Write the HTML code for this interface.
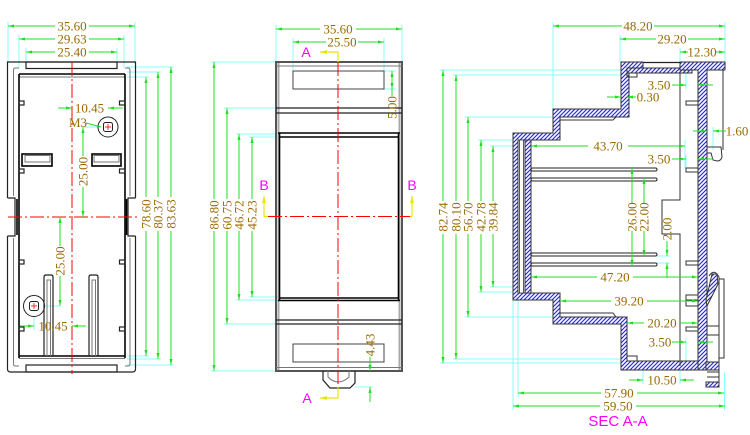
<!DOCTYPE html>
<html><head><meta charset="utf-8"><style>
html,body{margin:0;padding:0;background:#fff}
svg{display:block}
.t{font-family:"Liberation Serif",serif;font-size:13px;fill:#9a6a00;text-anchor:middle}
.m{font-family:"Liberation Sans",sans-serif;font-size:14px;fill:#ff00ff;text-anchor:middle}
.d line{stroke:#1de01d;stroke-width:1;marker-end:url(#ar)}
.dn line{stroke:#1de01d;stroke-width:1}
.e line{stroke:#8ff;stroke-width:1}
.o{stroke:#222;fill:none;stroke-width:1.2}
.k{stroke:#000;fill:none;stroke-width:1.6}
.g{stroke:#777;fill:none;stroke-width:1}
.c{stroke:#f00;stroke-width:1;stroke-dasharray:14 3 2 3;fill:none}
.h{fill:url(#hp);stroke:#333;stroke-width:1}
.y{stroke:#e8e800;stroke-width:1.2;fill:none}
</style></head><body>
<svg width="750" height="435" viewBox="0 0 750 435" xmlns="http://www.w3.org/2000/svg">
<defs>
<marker id="ar" viewBox="0 0 6 3" refX="6" refY="1.5" markerWidth="6" markerHeight="3" markerUnits="userSpaceOnUse" orient="auto"><path d="M0,0L6,1.5L0,3z" fill="#1de01d"/></marker>
<marker id="ay" viewBox="0 0 7 4" refX="7" refY="2" markerWidth="7" markerHeight="4" markerUnits="userSpaceOnUse" orient="auto"><path d="M0,0L7,2L0,4z" fill="#e8e800"/></marker>
<pattern id="hp" patternUnits="userSpaceOnUse" width="4" height="4"><rect width="4" height="4" fill="#fff"/><path d="M-1,1L1,-1M0,4L4,0M3,5L5,3" stroke="#2f2fd6" stroke-width="1.15"/></pattern>
</defs>
<rect width="750" height="435" fill="#fff"/>

<!-- ================= LEFT VIEW ================= -->
<g class="e">
<line x1="8" y1="22" x2="8" y2="62"/><line x1="135" y1="22" x2="135" y2="62"/>
<line x1="19" y1="35" x2="19" y2="68"/><line x1="124" y1="35" x2="124" y2="68"/>
<line x1="26" y1="48" x2="26" y2="62"/><line x1="117" y1="48" x2="117" y2="62"/>
<line x1="127" y1="67" x2="174" y2="67"/><line x1="127" y1="72" x2="161" y2="72"/><line x1="127" y1="77" x2="149" y2="77"/>
<line x1="127" y1="356" x2="149" y2="356"/><line x1="127" y1="359" x2="161" y2="359"/><line x1="127" y1="365" x2="174" y2="365"/>
<line x1="83" y1="127" x2="100" y2="127"/>
<line x1="44" y1="306" x2="60" y2="306"/><line x1="34" y1="316" x2="34" y2="330"/>
</g>
<!-- body -->
<path class="o" d="M7.5,198V62H135.5V198M7.5,198H15V236H7.5M135.5,198H128V236H135.5M7.5,236V369Q7.5,372 10.5,372H132.5Q135.5,372 135.5,369V236"/>
<g class="g">
<path d="M13.5,196V70Q13.5,68 15.5,68H19M13.5,238V364Q13.5,366 15.5,366H19"/>
<path d="M130,196V70Q130,68 128,68H125M130,238V364Q130,366 128,366H125"/>
<line x1="19" y1="77" x2="125" y2="77"/>
<line x1="19" y1="358.5" x2="125" y2="358.5"/>
</g>
<g class="k">
<line x1="19" y1="74" x2="19" y2="358"/><line x1="125" y1="74" x2="125" y2="358"/>
<line x1="19" y1="74" x2="125" y2="74"/><line x1="19" y1="356" x2="125" y2="356"/>
<line x1="17" y1="199" x2="17" y2="235"/><line x1="126.5" y1="199" x2="126.5" y2="235"/>
</g>
<rect class="o" x="26" y="62" width="91" height="6.5"/>
<rect class="o" x="26" y="365" width="91" height="7"/>
<g class="o">
<rect x="19" y="101" width="5" height="4"/><rect x="19" y="169" width="5" height="4"/>
<rect x="19" y="260" width="5" height="4"/><rect x="19" y="327" width="5" height="4"/>
<rect x="119.5" y="101" width="5.5" height="4"/><rect x="119.5" y="169" width="5.5" height="4"/>
<rect x="119.5" y="260" width="5.5" height="4"/><rect x="119.5" y="327" width="5.5" height="4"/>
</g>
<rect x="22" y="154" width="30" height="12" stroke="#000" stroke-width="1.6" fill="none"/>
<rect x="25" y="155.5" width="25" height="6.5" class="g"/>
<rect x="92" y="154" width="29" height="12" stroke="#000" stroke-width="1.6" fill="none"/>
<rect x="94" y="155.5" width="25" height="6.5" class="g"/>
<!-- posts -->
<path class="o" d="M44,356V277Q44,275 46,275H51Q53,275 53,277V356"/>
<path class="g" d="M47,356V280H50.5V356"/>
<path class="o" d="M89,356V277Q89,275 91,275H96Q98,275 98,277V356"/>
<path class="g" d="M92,356V280H95.5V356"/>
<!-- holes -->
<circle cx="108" cy="127" r="10" fill="none" stroke="#222" stroke-width="1"/>
<rect x="103.5" y="122.5" width="9" height="9" rx="2" fill="none" stroke="#222" stroke-width="1"/>
<circle cx="34" cy="306" r="10.5" fill="none" stroke="#222" stroke-width="1"/>
<rect x="29.5" y="301.5" width="9" height="9" rx="2" fill="none" stroke="#222" stroke-width="1"/>
<g stroke="#f00" stroke-width="0.8"><line x1="105" y1="127" x2="111" y2="127"/><line x1="108" y1="124" x2="108" y2="130"/>
<line x1="31" y1="306" x2="37" y2="306"/><line x1="34" y1="303" x2="34" y2="309"/></g>
<!-- centre lines -->
<line class="c" x1="72" y1="62" x2="72" y2="374"/>
<line class="c" x1="8" y1="217" x2="138" y2="217"/>
<!-- dims -->
<g class="d">
<line x1="55" y1="26" x2="8" y2="26"/><line x1="89" y1="26" x2="135" y2="26"/>
<line x1="55" y1="39" x2="19" y2="39"/><line x1="89" y1="39" x2="124" y2="39"/>
<line x1="55" y1="52" x2="26" y2="52"/><line x1="89" y1="52" x2="117" y2="52"/>
<line x1="58" y1="108" x2="72" y2="108"/><line x1="123" y1="108" x2="108" y2="108"/>
<line x1="83" y1="156" x2="83" y2="127"/><line x1="83" y1="187" x2="83" y2="217"/>
<line x1="60" y1="246" x2="60" y2="217"/><line x1="60" y1="276" x2="60" y2="306"/>
<line x1="20" y1="326" x2="34" y2="326"/><line x1="86" y1="326" x2="72" y2="326"/>
<line x1="146" y1="197" x2="146" y2="77"/><line x1="146" y1="231" x2="146" y2="356"/>
<line x1="158" y1="197" x2="158" y2="72"/><line x1="158" y1="231" x2="158" y2="359"/>
<line x1="171" y1="197" x2="171" y2="67"/><line x1="171" y1="231" x2="171" y2="365"/>
</g>
<g class="dn"><line x1="86" y1="123" x2="101" y2="127"/></g>
<text class="t" x="72" y="30.5">35.60</text>
<text class="t" x="72" y="43.5">29.63</text>
<text class="t" x="72" y="56.5">25.40</text>
<text class="t" x="89.5" y="112.5">10.45</text>
<text class="t" x="78" y="127">M3</text>
<text class="t" transform="translate(83,171.5) rotate(-90)" y="4.5">25.00</text>
<text class="t" transform="translate(60,261) rotate(-90)" y="4.5">25.00</text>
<text class="t" x="53" y="330.5">10.45</text>
<text class="t" transform="translate(146,214) rotate(-90)" y="4.5">78.60</text>
<text class="t" transform="translate(158,214) rotate(-90)" y="4.5">80.37</text>
<text class="t" transform="translate(171,214) rotate(-90)" y="4.5">83.63</text>

<!-- ================= MIDDLE VIEW ================= -->
<g class="e">
<line x1="276" y1="25" x2="276" y2="62"/><line x1="402" y1="25" x2="402" y2="62"/>
<line x1="293" y1="38" x2="293" y2="71"/><line x1="384" y1="38" x2="384" y2="71"/>
<line x1="384" y1="71" x2="396" y2="71"/><line x1="384" y1="89" x2="396" y2="89"/>
<line x1="355" y1="387" x2="373" y2="387"/>
<line x1="211" y1="62" x2="276" y2="62"/><line x1="224" y1="108" x2="276" y2="108"/>
<line x1="236" y1="134" x2="279" y2="134"/><line x1="249" y1="137" x2="279" y2="137"/>
<line x1="249" y1="297" x2="279" y2="297"/><line x1="236" y1="300" x2="279" y2="300"/>
<line x1="224" y1="324" x2="276" y2="324"/><line x1="211" y1="371" x2="276" y2="371"/>
</g>
<rect x="276" y="62" width="126" height="309" fill="none" stroke="#555" stroke-width="2"/>
<g stroke="#aaa" stroke-width="2"><line x1="278.5" y1="63" x2="278.5" y2="370"/><line x1="399.5" y1="63" x2="399.5" y2="370"/></g>
<g class="g"><line x1="276" y1="66" x2="402" y2="66"/><line x1="276" y1="367.5" x2="402" y2="367.5"/></g>
<rect x="293" y="71" width="91" height="18" fill="none" stroke="#444" stroke-width="1"/>
<rect x="293" y="344" width="91" height="18" fill="none" stroke="#444" stroke-width="1"/>
<g class="o">
<line x1="276" y1="108" x2="402" y2="108"/><line x1="276" y1="113" x2="402" y2="113"/>
<line x1="276" y1="320" x2="402" y2="320"/><line x1="276" y1="324" x2="402" y2="324"/>
</g>
<g class="k">
<line x1="278" y1="133" x2="400" y2="133"/><line x1="279" y1="137" x2="399" y2="137"/>
<line x1="279" y1="298" x2="399" y2="298"/><line x1="278" y1="300.5" x2="400" y2="300.5"/>
<line x1="279.5" y1="133" x2="279.5" y2="300"/><line x1="398.5" y1="133" x2="398.5" y2="300"/>
</g>
<path class="o" d="M323,371V380L330,388H350L355,383V371"/>
<path class="g" d="M328,371V377Q338,387 349,377V371"/>
<!-- centre lines & section marks -->
<line class="y" x1="264" y1="216.5" x2="278" y2="216.5"/>
<line class="y" x1="400" y1="216.5" x2="412" y2="216.5"/>
<line class="c" x1="268" y1="216.5" x2="410" y2="216.5"/>
<line class="c" x1="338" y1="62" x2="338" y2="387"/>
<line class="y" x1="264" y1="216.5" x2="264" y2="196" marker-end="url(#ay)"/>
<line class="y" x1="412" y1="216.5" x2="412" y2="196" marker-end="url(#ay)"/>
<path class="y" d="M338,62V52H320" marker-end="url(#ay)"/>
<path class="y" d="M338,387V398H320" marker-end="url(#ay)"/>
<text class="m" x="306" y="57">A</text>
<text class="m" x="307" y="403">A</text>
<text class="m" x="264" y="190">B</text>
<text class="m" x="412" y="190">B</text>
<g class="d">
<line x1="320" y1="29" x2="276" y2="29"/><line x1="356" y1="29" x2="402" y2="29"/>
<line x1="326" y1="42" x2="293" y2="42"/><line x1="358" y1="42" x2="384" y2="42"/>
<line x1="392" y1="80" x2="392" y2="71"/><line x1="392" y1="80" x2="392" y2="89"/>
<line x1="370" y1="357" x2="370" y2="371"/><line x1="370" y1="402" x2="370" y2="387"/>
<line x1="214" y1="199" x2="214" y2="62"/><line x1="214" y1="231" x2="214" y2="371"/>
<line x1="227" y1="199" x2="227" y2="108"/><line x1="227" y1="231" x2="227" y2="324"/>
<line x1="239" y1="199" x2="239" y2="134"/><line x1="239" y1="231" x2="239" y2="300"/>
<line x1="252" y1="199" x2="252" y2="137"/><line x1="252" y1="231" x2="252" y2="297"/>
</g>
<g class="dn"><line x1="392" y1="89" x2="392" y2="96"/></g>
<text class="t" x="338" y="33.5">35.60</text>
<text class="t" x="342" y="46.5">25.50</text>
<text class="t" transform="translate(392,107.5) rotate(-90)" y="4.5">5.00</text>
<text class="t" transform="translate(370,345) rotate(-90)" y="4.5">4.43</text>
<text class="t" transform="translate(214,215) rotate(-90)" y="4.5">86.80</text>
<text class="t" transform="translate(227,215) rotate(-90)" y="4.5">60.75</text>
<text class="t" transform="translate(239,215) rotate(-90)" y="4.5">46.72</text>
<text class="t" transform="translate(252,215) rotate(-90)" y="4.5">45.23</text>

<!-- ================= SECTION A-A ================= -->
<g class="e">
<line x1="553" y1="22" x2="553" y2="109"/><line x1="620" y1="35" x2="620" y2="62"/>
<line x1="725" y1="22" x2="725" y2="62"/><line x1="680" y1="48" x2="680" y2="62"/>
<line x1="686" y1="73" x2="686" y2="89"/><line x1="713" y1="127" x2="713" y2="150"/>
<line x1="685" y1="140" x2="685" y2="168"/><line x1="686" y1="155" x2="686" y2="168"/>
<line x1="657" y1="256" x2="670" y2="256"/><line x1="657" y1="263" x2="670" y2="263"/>
<line x1="686" y1="338" x2="686" y2="361"/>
<line x1="643" y1="368" x2="643" y2="384"/><line x1="680" y1="366" x2="680" y2="384"/>
<line x1="518" y1="300" x2="518" y2="397"/><line x1="513" y1="300" x2="513" y2="410"/>
<line x1="724.5" y1="373" x2="724.5" y2="410"/>
<line x1="440" y1="70" x2="621" y2="70"/><line x1="453" y1="75" x2="621" y2="75"/>
<line x1="465" y1="117" x2="553" y2="117"/><line x1="478" y1="140" x2="513" y2="140"/>
<line x1="490" y1="146" x2="519" y2="146"/><line x1="490" y1="287" x2="519" y2="287"/>
<line x1="478" y1="292" x2="513" y2="292"/><line x1="465" y1="317" x2="553" y2="317"/>
<line x1="453" y1="359" x2="621" y2="359"/><line x1="440" y1="363" x2="621" y2="363"/>
</g>
<!-- hatched shell -->
<path class="h" d="M643,62H621V109H553V133H513V300H553V324H621V370H698V361H627V317H560V293H518V140H560V117H629V69H643Z"/>
<rect class="h" x="525" y="140" width="6" height="153"/>
<rect x="519.5" y="140" width="4" height="153" fill="#fff" stroke="#333" stroke-width="0.8"/>
<rect class="h" x="627" y="68" width="65" height="5"/>
<path class="h" d="M680,62H725V70H707V370H698V70H680Z"/>
<line class="o" x1="643" y1="62.5" x2="680" y2="62.5"/>
<!-- inner details -->
<g stroke="#333" stroke-width="1" fill="none">
<path d="M560,120H613L616,117"/><path d="M560,313H613L616,317"/>
<rect x="627" y="73" width="10" height="4"/><rect x="627" y="356" width="10" height="5"/>
<path d="M680,73V200H662V234H680V366"/>
<path d="M707,70H723V150"/>
<path d="M707,147H721L722,157Q721,161 717,161L713,160L711,153H707"/>
<rect x="686" y="101" width="12" height="4"/><rect x="686" y="168" width="12" height="4"/>
<rect x="686" y="261" width="12" height="4"/><rect x="686" y="295" width="12" height="11"/>
<line x1="686" y1="300" x2="698" y2="300"/><rect x="686" y="327" width="12" height="4"/>
<path d="M709,276Q714,268 719,277V387H706"/>
<path d="M719,279H724V358H719"/>
<line x1="707" y1="326" x2="719" y2="326"/><line x1="707" y1="335" x2="719" y2="335"/>
<line x1="707" y1="372" x2="719" y2="372"/><line x1="707" y1="377" x2="719" y2="377"/>
</g>
<path class="h" d="M706,300L712,274L717,274L718,284L707,306Z"/>
<rect class="h" x="706" y="362" width="13" height="8"/>
<rect class="h" x="706" y="382" width="13" height="5"/>
<!-- fins -->
<g stroke="#222" stroke-width="1" fill="#fff">
<rect x="531" y="168" width="126" height="3" rx="1.5"/>
<rect x="531" y="178" width="126" height="3" rx="1.5"/>
<rect x="531" y="253" width="126" height="3" rx="1.5"/>
<rect x="531" y="263" width="126" height="3" rx="1.5"/>
</g>
<!-- dims -->
<g class="d">
<line x1="622" y1="26" x2="553" y2="26"/><line x1="654" y1="26" x2="725" y2="26"/>
<line x1="656" y1="39" x2="620" y2="39"/><line x1="688" y1="39" x2="725" y2="39"/>
<line x1="688" y1="52" x2="680" y2="52"/><line x1="716" y1="52" x2="725" y2="52"/>
<line x1="672" y1="85" x2="686" y2="85"/><line x1="713" y1="85" x2="698" y2="85"/>
<line x1="607" y1="97" x2="621" y2="97"/><line x1="636" y1="97" x2="627" y2="97"/>
<line x1="693" y1="131" x2="707" y2="131"/><line x1="726" y1="131" x2="713" y2="131"/>
<line x1="588" y1="146" x2="531" y2="146"/><line x1="628" y1="146" x2="685" y2="146"/>
<line x1="672" y1="159" x2="686" y2="159"/><line x1="713" y1="159" x2="698" y2="159"/>
<line x1="632" y1="203" x2="632" y2="168"/><line x1="632" y1="231" x2="632" y2="266"/>
<line x1="644" y1="203" x2="644" y2="178"/><line x1="644" y1="231" x2="644" y2="256"/>
<line x1="667" y1="241" x2="667" y2="256"/><line x1="667" y1="278" x2="667" y2="263"/>
<line x1="597" y1="277" x2="531" y2="277"/><line x1="633" y1="277" x2="698" y2="277"/>
<line x1="611" y1="301" x2="560" y2="301"/><line x1="647" y1="301" x2="698" y2="301"/>
<line x1="644" y1="323" x2="627" y2="323"/><line x1="680" y1="323" x2="698" y2="323"/>
<line x1="672" y1="342" x2="686" y2="342"/><line x1="713" y1="342" x2="698" y2="342"/>
<line x1="629" y1="380" x2="643" y2="380"/><line x1="694" y1="380" x2="680" y2="380"/>
<line x1="601" y1="393" x2="518" y2="393"/><line x1="637" y1="393" x2="724" y2="393"/>
<line x1="600" y1="406" x2="513" y2="406"/><line x1="636" y1="406" x2="725" y2="406"/>
<line x1="443" y1="201" x2="443" y2="70"/><line x1="443" y1="234" x2="443" y2="363"/>
<line x1="456" y1="201" x2="456" y2="75"/><line x1="456" y1="234" x2="456" y2="359"/>
<line x1="468" y1="201" x2="468" y2="117"/><line x1="468" y1="234" x2="468" y2="317"/>
<line x1="481" y1="201" x2="481" y2="140"/><line x1="481" y1="234" x2="481" y2="292"/>
<line x1="493" y1="201" x2="493" y2="146"/><line x1="493" y1="234" x2="493" y2="287"/>
</g>
<text class="t" x="638" y="30.5">48.20</text>
<text class="t" x="672" y="43.5">29.20</text>
<text class="t" x="702" y="56.5">12.30</text>
<text class="t" x="659" y="89.5">3.50</text>
<text class="t" x="648" y="101.5">0.30</text>
<text class="t" x="737" y="135.5">1.60</text>
<text class="t" x="608" y="150.5">43.70</text>
<text class="t" x="659" y="163.5">3.50</text>
<text class="t" transform="translate(632,217) rotate(-90)" y="4.5">26.00</text>
<text class="t" transform="translate(644,217) rotate(-90)" y="4.5">22.00</text>
<text class="t" transform="translate(667,229) rotate(-90)" y="4.5">2.00</text>
<text class="t" x="615" y="281.5">47.20</text>
<text class="t" x="629" y="305.5">39.20</text>
<text class="t" x="662" y="327.5">20.20</text>
<text class="t" x="660" y="346.5">3.50</text>
<text class="t" x="662" y="384.5">10.50</text>
<text class="t" x="619" y="397.5">57.90</text>
<text class="t" x="618" y="410.5">59.50</text>
<text class="t" transform="translate(443,217) rotate(-90)" y="4.5">82.74</text>
<text class="t" transform="translate(456,217) rotate(-90)" y="4.5">80.10</text>
<text class="t" transform="translate(468,217) rotate(-90)" y="4.5">56.70</text>
<text class="t" transform="translate(481,217) rotate(-90)" y="4.5">42.78</text>
<text class="t" transform="translate(493,217) rotate(-90)" y="4.5">39.84</text>
<text class="m" x="618" y="426" style="font-size:15px">SEC A-A</text>
</svg>
</body></html>
